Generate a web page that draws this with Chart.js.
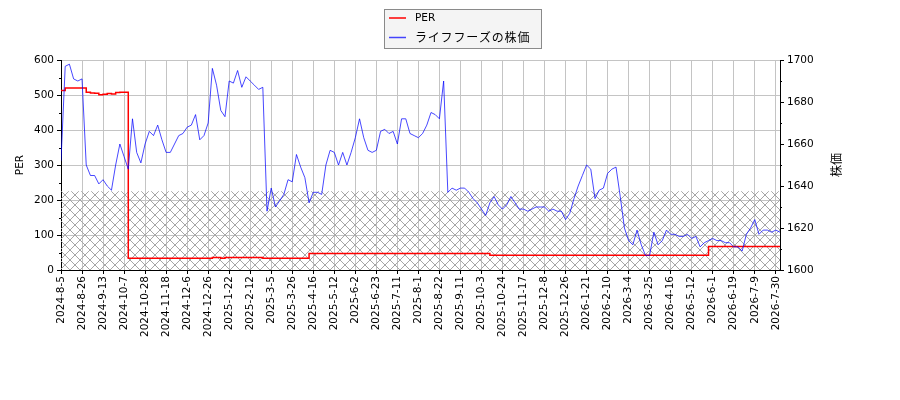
<!DOCTYPE html>
<html>
<head>
<meta charset="utf-8">
<script src="https://cdn.jsdelivr.net/npm/chart.js@4.4.1/dist/chart.umd.min.js"></script>
<style>
    html, body { margin: 0; padding: 0; background: #ffffff; }
    #wrap { width: 900px; height: 400px; }
</style>
</head>
<body>
<div id="wrap"><canvas id="chart" width="900" height="400"></canvas></div>
<script>
// ========================================
// DATA
// ========================================

// x tick labels, one every 5 samples
const TICK_LABELS = [
    '2024-8-5', '2024-8-26', '2024-9-13', '2024-10-7', '2024-10-28', '2024-11-18',
    '2024-12-6', '2024-12-26', '2025-1-22', '2025-2-12', '2025-3-5', '2025-3-26',
    '2025-4-16', '2025-5-12', '2025-6-2', '2025-6-23', '2025-7-11', '2025-8-1',
    '2025-8-22', '2025-9-11', '2025-10-3', '2025-10-24', '2025-11-17', '2025-12-8',
    '2025-12-26', '2026-1-21', '2026-2-10', '2026-3-4', '2026-3-25', '2026-4-16',
    '2026-5-12', '2026-6-1', '2026-6-19', '2026-7-9', '2026-7-30'
];
const SAMPLES_PER_TICK = 5;

// PER (left axis)
const PER_VALUES = [
    513, 520, 520, 520, 520, 520, 508, 506, 505, 501,
    502, 504, 503, 507, 508, 508, 33.5, 33.5, 33.5, 33.5,
    33.5, 33.5, 33.5, 33.5, 33.5, 33.5, 33.5, 33.5, 33.5, 33.5,
    33.5, 33.5, 33.5, 33.5, 33.5, 33.5, 36, 36, 33.5, 36,
    36, 36, 36, 36, 36, 36, 36, 36, 33.5, 33.5,
    33.5, 33.5, 33.5, 33.5, 33.5, 33.5, 33.5, 33.5, 33.5, 47.5,
    47.5, 47.5, 47.5, 47.5, 47.5, 47.5, 47.5, 47.5, 47.5, 47.5,
    47.5, 47.5, 47.5, 47.5, 47.5, 47.5, 47.5, 47.5, 47.5, 47.5,
    47.5, 47.5, 47.5, 47.5, 47.5, 47.5, 47.5, 47.5, 47.5, 47.5,
    47.5, 47.5, 47.5, 47.5, 47.5, 47.5, 47.5, 47.5, 47.5, 47.5,
    47.5, 47.5, 42, 42, 42, 42, 42, 42, 42, 42,
    42, 42, 42, 42, 42, 42, 42, 42, 42, 42,
    42, 42, 42, 42, 42, 42, 42, 42, 42, 42,
    42, 42, 42, 42, 42, 42, 42, 42, 42, 42,
    42, 42, 42, 42, 42, 42, 42, 42, 42, 42,
    42, 42, 42, 42, 67, 67, 67, 67, 67, 67,
    67, 67, 67, 67, 67, 67, 67, 67, 67, 67,
    67, 67
];

// share price (right axis)
const PRICE_VALUES = [
    1652, 1697, 1698, 1691, 1690, 1691, 1650, 1645, 1645, 1641,
    1643, 1640, 1638, 1650, 1660, 1654, 1648, 1672, 1656, 1651,
    1660, 1666, 1664, 1669, 1662, 1656, 1656, 1660, 1664, 1665,
    1668, 1669, 1674, 1662, 1664, 1670, 1696, 1688, 1676, 1673,
    1690, 1689, 1695, 1687, 1692, 1690, 1688, 1686, 1687, 1628,
    1639, 1630, 1633, 1636, 1643, 1642, 1655, 1649, 1644, 1632,
    1637, 1637, 1636, 1650, 1657, 1656, 1650, 1656, 1650, 1656,
    1663, 1672, 1663, 1657, 1656, 1657, 1666, 1667, 1665, 1666,
    1660, 1672, 1672, 1665, 1664, 1663, 1665, 1669, 1675, 1674,
    1672, 1690, 1637, 1639, 1638, 1639, 1639, 1637, 1634, 1632,
    1629, 1626, 1632, 1635, 1631, 1629, 1631, 1635, 1632, 1629,
    1629, 1628, 1629, 1630, 1630, 1630, 1628, 1629, 1628, 1628,
    1624, 1627, 1634, 1640, 1645, 1650, 1648, 1634, 1638, 1639,
    1646, 1648, 1649, 1635, 1620, 1614, 1612, 1619, 1612, 1607,
    1607, 1618, 1612, 1614, 1619, 1617, 1617, 1616, 1616, 1617,
    1615, 1616, 1611, 1613, 1614, 1615, 1614, 1614, 1613, 1613,
    1611, 1611, 1609, 1617, 1620, 1624, 1617, 1619, 1619, 1618,
    1619, 1618
];

// top of the hatched band, in PER units
const HATCH_TOP = 225;

const PER_LABEL = 'PER';
const PRICE_LABEL = 'ライフフーズの株価';

// ========================================
// STYLE
// ========================================

const COLORS = {
    per: '#ff0000',
    price: 'rgba(0, 0, 255, 0.72)',
    grid: '#c4c4c4',
    hatch: '#a6a6a6',
    text: '#000000'
};
const FONT = 'DejaVu Sans';
const JP_FONT = "'Noto Sans CJK JP'";

// ========================================
// PLUGIN: hatch band, minor ticks, titles, legend
// ========================================

function makeHatch(size) {
    const c = document.createElement('canvas');
    c.width = size;
    c.height = size;
    const g = c.getContext('2d');
    g.strokeStyle = COLORS.hatch;
    g.lineWidth = 1;
    g.beginPath();
    g.moveTo(0, 0); g.lineTo(size, size);
    g.moveTo(0, size); g.lineTo(size, 0);
    g.stroke();
    return c;
}

const decorPlugin = {
    id: 'decor',
    beforeDatasetsDraw(chart) {
        const { ctx, chartArea: a, scales } = chart;
        const top = scales.yL.getPixelForValue(HATCH_TOP);
        const bottom = scales.yL.getPixelForValue(0);
        ctx.save();
        ctx.fillStyle = ctx.createPattern(makeHatch(10), 'repeat');
        ctx.fillRect(a.left, top, a.right - a.left, bottom - top);
        ctx.restore();
    },
    afterDraw(chart) {
        const { ctx, chartArea: a, scales } = chart;
        ctx.save();

        // minor ticks
        ctx.strokeStyle = '#000';
        ctx.lineWidth = 1;
        ctx.beginPath();
        for (let v = 50; v < 600; v += 100) {
            const y = Math.round(scales.yL.getPixelForValue(v)) + 0.5;
            ctx.moveTo(a.left - 2, y); ctx.lineTo(a.left, y);
        }
        for (let v = 1610; v < 1700; v += 20) {
            const y = Math.round(scales.yR.getPixelForValue(v)) + 0.5;
            ctx.moveTo(a.right, y); ctx.lineTo(a.right + 2, y);
        }
        ctx.stroke();

        // axis titles
        const midY = (a.top + a.bottom) / 2;
        ctx.fillStyle = COLORS.text;
        ctx.textAlign = 'center';
        ctx.textBaseline = 'middle';
        ctx.font = `10.5px ${FONT}`;
        ctx.save();
        ctx.translate(20, midY);
        ctx.rotate(-Math.PI / 2);
        ctx.fillText(PER_LABEL, 0, 0);
        ctx.restore();
        ctx.font = `12px ${JP_FONT}`;
        ctx.save();
        ctx.translate(836, midY);
        ctx.rotate(-Math.PI / 2);
        ctx.fillText('株価', 0, 0);
        ctx.restore();

        // legend box
        ctx.fillStyle = '#f4f4f4';
        ctx.strokeStyle = '#8a8a8a';
        ctx.fillRect(384.5, 9.5, 157, 39);
        ctx.strokeRect(384.5, 9.5, 157, 39);

        ctx.lineWidth = 1.5;
        ctx.strokeStyle = COLORS.per;
        ctx.beginPath(); ctx.moveTo(389, 18); ctx.lineTo(406, 18); ctx.stroke();
        ctx.lineWidth = 1.5;
        ctx.strokeStyle = COLORS.price;
        ctx.beginPath(); ctx.moveTo(389, 37.5); ctx.lineTo(406, 37.5); ctx.stroke();

        ctx.fillStyle = COLORS.text;
        ctx.textAlign = 'left';
        ctx.font = `10.5px ${FONT}`;
        ctx.fillText(PER_LABEL, 415, 18);
        ctx.font = `12px ${JP_FONT}`;
        ctx.letterSpacing = '0.8px';
        ctx.fillText(PRICE_LABEL, 415, 37.5);
        ctx.restore();
    }
};

// ========================================
// CHART
// ========================================

const tickFont = { family: FONT, size: 10.5 };

new Chart(document.getElementById('chart'), {
    type: 'line',
    data: {
        datasets: [
            {
                label: PRICE_LABEL,
                data: PRICE_VALUES.map((v, i) => ({ x: i, y: v })),
                borderColor: COLORS.price,
                borderWidth: 1,
                pointRadius: 0,
                tension: 0,
                yAxisID: 'yR'
            },
            {
                label: PER_LABEL,
                data: PER_VALUES.map((v, i) => ({ x: i, y: v })),
                borderColor: COLORS.per,
                borderWidth: 1.5,
                pointRadius: 0,
                stepped: true,
                yAxisID: 'yL'
            }
        ]
    },
    options: {
        responsive: false,
        animation: false,
        devicePixelRatio: 1,
        layout: { padding: { top: 60, left: 0, right: 0, bottom: 0 } },
        plugins: {
            legend: { display: false },
            tooltip: { enabled: false }
        },
        scales: {
            x: {
                type: 'linear',
                min: 0,
                max: PRICE_VALUES.length - 1,
                afterBuildTicks(scale) {
                    scale.ticks = TICK_LABELS.map((_, i) => ({ value: i * SAMPLES_PER_TICK }));
                },
                afterFit(scale) { scale.height = 130; },
                ticks: {
                    autoSkip: false,
                    minRotation: 90,
                    maxRotation: 90,
                    padding: 2,
                    color: COLORS.text,
                    font: tickFont,
                    callback: (v) => TICK_LABELS[Math.round(v / SAMPLES_PER_TICK)]
                },
                grid: { color: COLORS.grid, tickColor: '#000', tickLength: 4 },
                border: { color: '#000' }
            },
            yL: {
                position: 'left',
                min: 0,
                max: 600,
                afterFit(scale) { scale.width = 61; },
                ticks: {
                    stepSize: 100, padding: 3, color: COLORS.text, font: tickFont,
                    callback: (v) => String(v)
                },
                grid: { color: COLORS.grid, tickColor: '#000', tickLength: 4 },
                border: { color: '#000' }
            },
            yR: {
                position: 'right',
                min: 1600,
                max: 1700,
                afterFit(scale) { scale.width = 120; },
                ticks: {
                    stepSize: 20, padding: 3, color: COLORS.text, font: tickFont,
                    callback: (v) => String(v)
                },
                grid: { drawOnChartArea: false, tickColor: '#000', tickLength: 4 },
                border: { color: '#000' }
            }
        }
    },
    plugins: [decorPlugin]
});
</script>
</body>
</html>
